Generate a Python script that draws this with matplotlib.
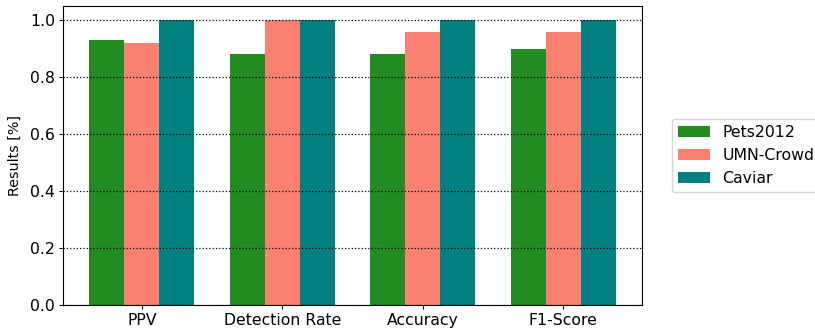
import numpy as np
import matplotlib
matplotlib.use('Agg')
import matplotlib.pyplot as plt

# Scores per metric for each dataset
METRICS = ['PPV', 'Detection Rate', 'Accuracy', 'F1-Score']
PETS2012 = [0.93, 0.88, 0.88, 0.90]
UMN_CROWD = [0.92, 1.00, 0.96, 0.96]
CAVIAR = [1.00, 1.00, 1.00, 1.00]

SERIES = [
    ('Pets2012', PETS2012, 'forestgreen'),
    ('UMN-Crowd', UMN_CROWD, 'salmon'),
    ('Caviar', CAVIAR, 'teal'),
]

plt.rcParams['font.size'] = 11.3


def plot_results():
    fig, ax = plt.subplots(figsize=(8.15, 3.29), dpi=100)
    fig.subplots_adjust(left=0.077, right=0.788, top=0.982, bottom=0.073)

    x = np.arange(len(METRICS))
    width = 0.25
    for i, (name, values, color) in enumerate(SERIES):
        ax.bar(x + (i - 1) * width, values, width, label=name, color=color, zorder=2)

    ax.set_xticks(x)
    ax.set_xticklabels(METRICS)
    ax.set_ylim(0, 1.05)
    ax.set_yticks(np.arange(0, 1.01, 0.2))
    ax.tick_params(length=3.2, pad=2.5)
    ax.set_ylabel('Results [%]', fontsize=10.3, labelpad=6)
    ax.yaxis.grid(True, linestyle=':', color='black', linewidth=0.9, zorder=3)
    ax.set_axisbelow(False)

    ax.legend(loc='center left', bbox_to_anchor=(1.038, 0.5))
    fig.savefig('out.png', dpi=100)
    plt.close(fig)


if __name__ == "__main__":
    plot_results()
